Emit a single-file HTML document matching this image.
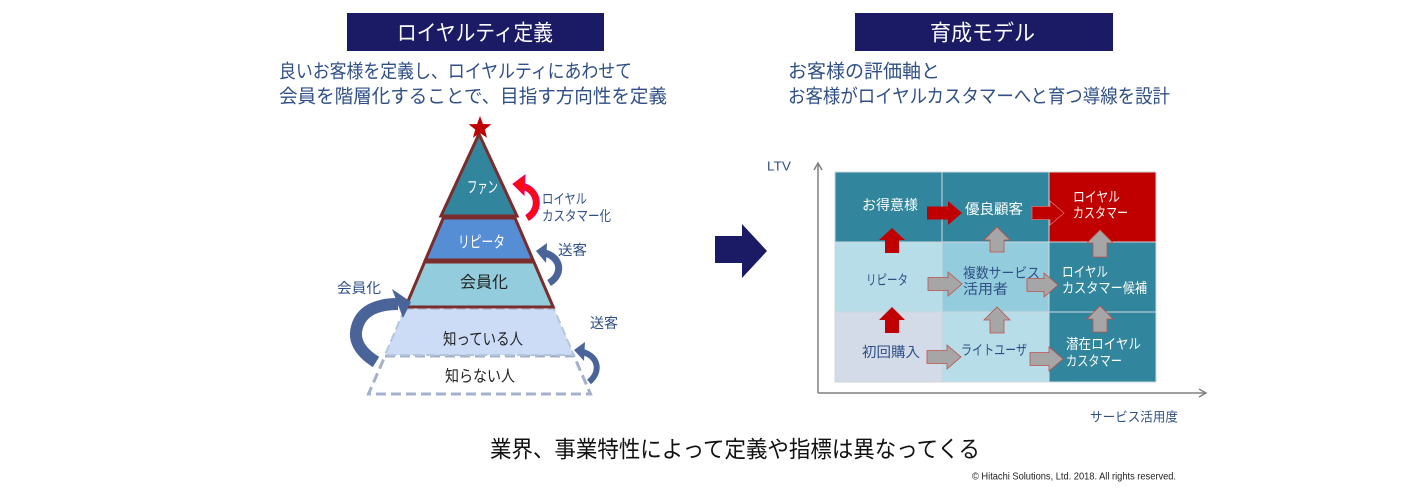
<!DOCTYPE html>
<html><head><meta charset="utf-8"><style>
html,body{margin:0;padding:0;background:#fff;}
svg{display:block;}
text{font-family:"Liberation Sans","Noto Sans CJK JP",sans-serif;}
</style></head><body>
<svg width="1406" height="490" viewBox="0 0 1406 490" xmlns="http://www.w3.org/2000/svg">
<!-- Titles -->
<rect x="347" y="13" width="257" height="38" fill="#1b1a64"/>
<text x="397" y="33" font-size="22" fill="#fff" dominant-baseline="central" textLength="156" lengthAdjust="spacingAndGlyphs">ロイヤルティ定義</text>
<rect x="855" y="13" width="258" height="38" fill="#1b1a64"/>
<text x="930" y="33" font-size="22" fill="#fff" dominant-baseline="central" textLength="105" lengthAdjust="spacingAndGlyphs">育成モデル</text>

<!-- Subtitles -->
<g fill="#2f4f86" font-size="19" dominant-baseline="central">
<text x="279" y="72" textLength="353" lengthAdjust="spacingAndGlyphs">良いお客様を定義し、ロイヤルティにあわせて</text>
<text x="279" y="97" textLength="388" lengthAdjust="spacingAndGlyphs">会員を階層化することで、目指す方向性を定義</text>
<text x="788" y="72" textLength="152" lengthAdjust="spacingAndGlyphs">お客様の評価軸と</text>
<text x="788" y="97" textLength="382" lengthAdjust="spacingAndGlyphs">お客様がロイヤルカスタマーへと育つ導線を設計</text>
</g>

<!-- Pyramid -->
<polygon points="385,356 574,356 590.5,394 368.5,394" fill="#fff" stroke="#a4b1cc" stroke-width="3" stroke-dasharray="10,5"/>
<polygon points="404.6,309 554,309 573.8,355 385,355" fill="#ccdcf6" stroke="#b4c6dc" stroke-width="2" stroke-dasharray="9,4"/>
<polygon points="424.6,262 533.9,262 553.2,307 405.5,307" fill="#93cddd" stroke="#7b2c2c" stroke-width="3"/>
<polygon points="443.3,218 515,218 533,260 425.4,260" fill="#558ed5" stroke="#7b2c2c" stroke-width="3"/>
<polygon points="479,134 517,216 441,216" fill="#31859c" stroke="#7b2c2c" stroke-width="3" stroke-linejoin="miter"/>
<polygon points="480,116 482.94,123.95 491.41,124.29 484.76,129.55 487.05,137.71 480,133 472.95,137.71 475.24,129.55 468.59,124.29 477.06,123.95" fill="#c00000"/>

<g font-size="16" dominant-baseline="central">
<text x="467" y="188" fill="#fff" textLength="31" lengthAdjust="spacingAndGlyphs">ファン</text>
<text x="458" y="243" fill="#fff" textLength="47" lengthAdjust="spacingAndGlyphs">リピータ</text>
<text x="460" y="283" fill="#222" textLength="48" lengthAdjust="spacingAndGlyphs">会員化</text>
<text x="443" y="340" fill="#222" textLength="80" lengthAdjust="spacingAndGlyphs">知っている人</text>
<text x="445" y="377" fill="#222" textLength="70" lengthAdjust="spacingAndGlyphs">知らない人</text>
</g>
<g font-size="14" fill="#2f4f86" dominant-baseline="central">
<text x="542" y="199" textLength="45" lengthAdjust="spacingAndGlyphs">ロイヤル</text>
<text x="542" y="216" textLength="69" lengthAdjust="spacingAndGlyphs">カスタマー化</text>
<text x="558" y="250" textLength="29" lengthAdjust="spacingAndGlyphs">送客</text>
<text x="337" y="288" textLength="44" lengthAdjust="spacingAndGlyphs">会員化</text>
<text x="590" y="323" textLength="28" lengthAdjust="spacingAndGlyphs">送客</text>
</g>

<!-- curved arrows -->
<path d="M 527 218 C 541 210, 539 190, 522 186" fill="none" stroke="#e8006e" stroke-width="7"/>
<path d="M 527 218 C 541 210, 539 190, 522 186" fill="none" stroke="#ff0a0a" stroke-width="4.5"/>
<polygon points="513,184 525,175 524,195" fill="#ff0a0a" stroke="#e8006e" stroke-width="1"/>

<path d="M 549 283 C 563 275, 562 258, 545 253" fill="none" stroke="#4a6398" stroke-width="7"/>
<polygon points="536,251 547,243 546,263" fill="#4a6398"/>

<path d="M 376 362 C 360 352, 353 340, 357 327 C 361 312, 375 304, 398 304" fill="none" stroke="#4a6398" stroke-width="12"/>
<polygon points="411,302 392,289 403,318" fill="#4a6398"/>

<path d="M 589 382 C 601 372, 599 357, 583 352" fill="none" stroke="#4a6398" stroke-width="6"/>
<polygon points="574,350 585,342 584,361" fill="#4a6398"/>

<!-- Big navy arrow -->
<polygon points="715,236 742,236 742,224 767,251 742,278 742,263 715,263" fill="#1b1a64"/>

<!-- Axes -->
<g stroke="#808080" stroke-width="1.5" fill="none">
<line x1="818" y1="393" x2="818" y2="164"/>
<polyline points="814,170 818,163 822,170"/>
<line x1="818" y1="393" x2="1206" y2="393"/>
<polyline points="1199,389 1206,393 1199,397"/>
</g>
<g font-size="13" fill="#2f4f86" dominant-baseline="central">
<text x="767" y="166" textLength="24" lengthAdjust="spacingAndGlyphs">LTV</text>
<text x="1090" y="417" textLength="88" lengthAdjust="spacingAndGlyphs">サービス活用度</text>
</g>

<!-- Matrix -->
<g stroke="#cfd6de" stroke-width="1">
<rect x="835" y="172" width="107" height="70" fill="#31859c"/>
<rect x="942" y="172" width="107" height="70" fill="#31859c"/>
<rect x="1049" y="172" width="107" height="70" fill="#c00000"/>
<rect x="835" y="242" width="107" height="70" fill="#b7dee8"/>
<rect x="942" y="242" width="107" height="70" fill="#93cddd"/>
<rect x="1049" y="242" width="107" height="70" fill="#31859c"/>
<rect x="835" y="312" width="107" height="70" fill="#d3dae8"/>
<rect x="942" y="312" width="107" height="70" fill="#b7dee8"/>
<rect x="1049" y="312" width="107" height="70" fill="#31859c"/>
</g>

<g font-size="14" dominant-baseline="central">
<text x="862" y="205" fill="#fff" textLength="56" lengthAdjust="spacingAndGlyphs">お得意様</text>
<text x="965" y="209" fill="#fff" textLength="58" lengthAdjust="spacingAndGlyphs">優良顧客</text>
<text x="1073" y="197" fill="#fff" textLength="47" lengthAdjust="spacingAndGlyphs">ロイヤル</text>
<text x="1073" y="213" fill="#fff" textLength="55" lengthAdjust="spacingAndGlyphs">カスタマー</text>
<text x="866" y="280" fill="#2f4f86" textLength="42" lengthAdjust="spacingAndGlyphs">リピータ</text>
<text x="963" y="273" fill="#2f4f86" textLength="77" lengthAdjust="spacingAndGlyphs">複数サービス</text>
<text x="963" y="289" fill="#2f4f86" textLength="45" lengthAdjust="spacingAndGlyphs">活用者</text>
<text x="1062" y="272" fill="#fff" textLength="46" lengthAdjust="spacingAndGlyphs">ロイヤル</text>
<text x="1062" y="288" fill="#fff" textLength="85" lengthAdjust="spacingAndGlyphs">カスタマー候補</text>
<text x="862" y="352" fill="#2f4f86" textLength="58" lengthAdjust="spacingAndGlyphs">初回購入</text>
<text x="961" y="350" fill="#2f4f86" textLength="66" lengthAdjust="spacingAndGlyphs">ライトユーザ</text>
<text x="1066" y="344" fill="#fff" textLength="75" lengthAdjust="spacingAndGlyphs">潜在ロイヤル</text>
<text x="1066" y="361" fill="#fff" textLength="56" lengthAdjust="spacingAndGlyphs">カスタマー</text>
</g>

<!-- Matrix arrows: red -->
<g fill="#c00000">
<polygon points="927,206.5 948,206.5 948,201 962,213 948,225 948,219.5 927,219.5"/>
<polygon points="1032,206.5 1050,206.5 1050,201 1064,213 1050,225 1050,219.5 1032,219.5" stroke="#e07070" stroke-width="0.8"/>
<polygon points="885,253 885,240 879,240 892,228 905,240 899,240 899,253"/>
<polygon points="885,333 885,320 879,320 892,307 905,320 899,320 899,333"/>
</g>
<!-- grey arrows -->
<g fill="#a6a6a6" stroke="#c0504d" stroke-width="0.8">
<polygon points="990,252 990,240 984,240 997,227 1010,240 1004,240 1004,252"/>
<polygon points="990,333 990,320 984,320 997,307 1010,320 1004,320 1004,333"/>
<polygon points="1093,257 1093,243 1087,243 1100,230 1113,243 1107,243 1107,257"/>
<polygon points="1093,332 1093,319 1087,319 1100,306 1113,319 1107,319 1107,332"/>
<polygon points="928,277.5 948,277.5 948,272 962,284 948,296 948,290.5 928,290.5"/>
<polygon points="1027,278.5 1044,278.5 1044,273 1058,285 1044,297 1044,291.5 1027,291.5"/>
<polygon points="927,350.5 947,350.5 947,345 961,357 947,369 947,363.5 927,363.5"/>
<polygon points="1030,352.5 1049,352.5 1049,347 1063,359 1049,371 1049,365.5 1030,365.5"/>
</g>

<!-- Bottom -->
<text x="490" y="449" font-size="23" fill="#111" dominant-baseline="central" textLength="490" lengthAdjust="spacingAndGlyphs">業界、事業特性によって定義や指標は異なってくる</text>
<text x="972" y="477" font-size="10" fill="#222" dominant-baseline="central" textLength="204" lengthAdjust="spacingAndGlyphs">© Hitachi Solutions, Ltd. 2018. All rights reserved.</text>
</svg>
</body></html>
